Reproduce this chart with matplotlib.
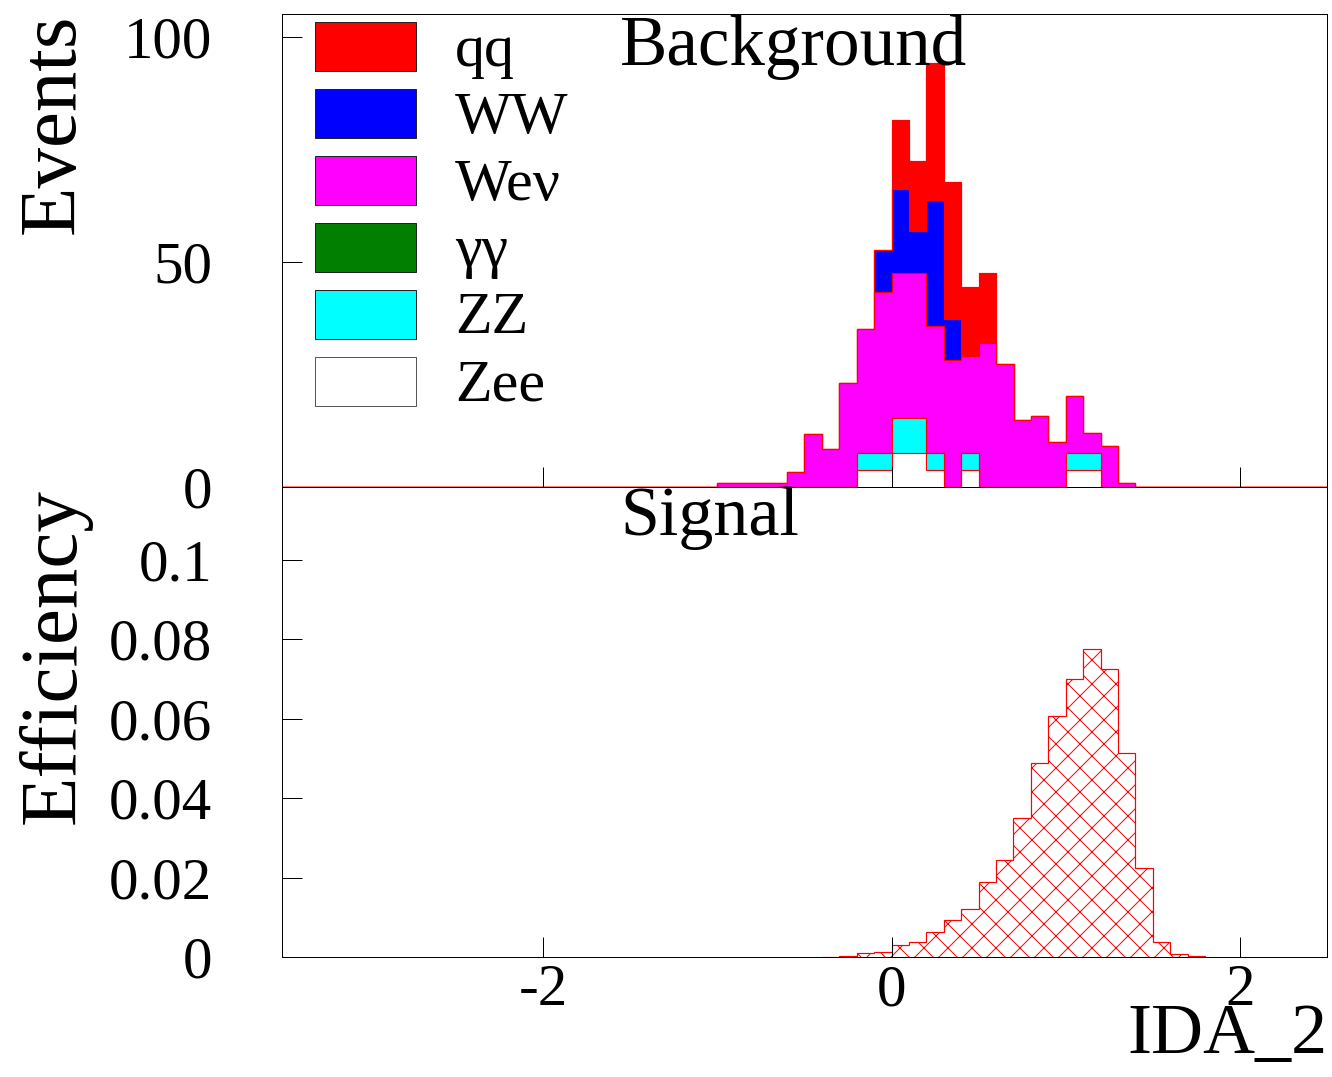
import matplotlib
matplotlib.use("Agg")
import matplotlib.pyplot as plt
from matplotlib.patches import Rectangle
import numpy as np

plt.rcParams.update({
    "font.family": ["Liberation Serif", "DejaVu Serif"],
    "axes.unicode_minus": False,
    "axes.linewidth": 1.0,
    "hatch.color": "red",
    "hatch.linewidth": 1.0,
})

# binning: 60 bins of 0.1 between -3.5 and 2.5
x_min, x_max, n_bins = -3.5, 2.5, 60
edges = np.linspace(x_min, x_max, n_bins + 1)

# background contributions, bins from -1.0 to 1.5 (events)
bkg_start = -1.0
zee = [0, 0, 0, 0, 0, 0, 0, 0, 3.8, 3.8, 7.6, 7.6, 3.8, 0, 3.8, 0, 0, 0, 0, 0, 3.8, 3.8, 0, 0, 0]
zz = [0, 0, 0, 0, 0, 0, 0, 0, 3.8, 3.8, 7.8, 7.8, 3.8, 0, 3.8, 0, 0, 0, 0, 0, 3.8, 3.8, 0, 0, 0]
gg = [0] * 25
wen = [0.8, 0.8, 0.8, 0.8, 3.3, 11.7, 8.4, 23.1, 27.4, 35.6, 32.2, 32.2, 28.2, 28.2, 21.5,
       32.0, 27.2, 14.9, 15.7, 9.9, 12.5, 4.3, 9.2, 0.8, 0]
ww = [0, 0, 0, 0, 0, 0, 0, 0, 0, 9.5, 18.6, 9.2, 28.0, 9.1, 0, 0, 0, 0, 0, 0, 0, 0, 0, 0, 0]
qq = [0, 0, 0, 0, 0, 0, 0, 0, 0, 0, 15.3, 15.5, 30.4, 30.5, 15.3, 15.4, 0, 0, 0, 0, 0, 0, 0, 0, 0]

# signal efficiency, bins from -0.4 to 1.8
sig_start = -0.4
signal = [0.0001, 0.00025, 0.0009, 0.0013, 0.0030, 0.0037, 0.0062, 0.0094, 0.0121, 0.0189,
          0.0244, 0.0351, 0.0489, 0.0608, 0.0701, 0.0775, 0.0725, 0.0513, 0.0223, 0.0037,
          0.0008, 0.0002]

labels = ["qq", "WW", "We\u03bd", "\u03b3\u03b3", "ZZ", "Zee"]
colors = ["#ff0000", "#0000ff", "#ff00ff", "#007f00", "#00ffff", "#ffffff"]


def full_range(vals, start):
    out = np.zeros(n_bins)
    i0 = int(round((start - x_min) / 0.1))
    out[i0:i0 + len(vals)] = vals
    return out


# cumulative stack, bottom first: Zee, ZZ, gg, Wev, WW, qq
parts = [full_range(v, bkg_start) for v in (zee, zz, gg, wen, ww, qq)]
cum = np.cumsum(parts, axis=0)

W, H = 1332, 1077
fig = plt.figure(figsize=(W / 72, H / 72), dpi=72)
ax1 = fig.add_axes([282 / W, (H - 487) / H, 1045 / W, 473 / H])
ax2 = fig.add_axes([282 / W, (H - 957) / H, 1045 / W, 470 / H])

# top: draw cumulative totals from the largest down (ROOT-like stack)
stack_colors = colors[::-1]  # Zee, ZZ, gg, Wev, WW, qq
for k in range(len(parts) - 1, -1, -1):
    ax1.stairs(cum[k], edges, baseline=0, fill=True, facecolor=stack_colors[k],
               edgecolor="red", linewidth=1.2)

ax1.set_xlim(x_min, x_max)
ax1.set_ylim(0, 105)
ax1.set_yticks([0, 50, 100])
ax1.set_xticks([-2, 0, 2])
ax1.tick_params(axis="both", direction="in", length=20, width=1, labelsize=59,
                left=True, bottom=True, top=False, right=False, labelbottom=False)
ax1.tick_params(axis="y", pad=70)

# legend drawn by hand, no frame
for i, (lab, col) in enumerate(zip(labels, colors)):
    yc = 0.932 - i * 0.1416
    ax1.add_patch(Rectangle((0.0316, yc - 0.0518), 0.0967, 0.1036, transform=ax1.transAxes,
                            facecolor=col, edgecolor="#555555" if lab == "Zee" else "#222222",
                            linewidth=1, zorder=5))
    ax1.text(0.1656, yc - 0.041, lab, transform=ax1.transAxes, fontsize=60,
             va="baseline", ha="left", zorder=5)

# bottom: signal efficiency with red cross hatch
sig_edges = np.round(sig_start + 0.1 * np.arange(len(signal) + 1), 3)
ax2.stairs(signal, sig_edges, baseline=0, fill=True, facecolor="white",
           edgecolor="red", hatch="x", linewidth=1.2)
ax2.set_xlim(x_min, x_max)
ax2.set_ylim(0, 0.1184)
ax2.set_yticks([0, 0.02, 0.04, 0.06, 0.08, 0.1])
ax2.set_yticklabels(["0", "0.02", "0.04", "0.06", "0.08", "0.1"])
ax2.set_xticks([-2, 0, 2])
ax2.set_xticklabels(["-2", "0", "2"])
ax2.tick_params(axis="both", direction="in", length=20, width=1, labelsize=59,
                left=True, bottom=True, top=False, right=False)
ax2.tick_params(axis="y", pad=70)
ax2.tick_params(axis="x", pad=7)

# titles and axis labels
fig.text(620 / W, 1 - 65 / H, "Background", fontsize=71, ha="left", va="baseline")
fig.text(620 / W, 1 - 535 / H, "Signal", fontsize=70, ha="left", va="baseline")
fig.text(1327 / W, 1 - 1053 / H, "IDA_2", fontsize=72, ha="right", va="baseline")
fig.text(18 / W, 1 - 14 / H, "Events", fontsize=81, rotation=90, ha="left", va="top")
fig.text(18 / W, 1 - 488 / H, "Efficiency", fontsize=81, rotation=90, ha="left", va="top")

fig.savefig("out.png", dpi=72, facecolor="white")
